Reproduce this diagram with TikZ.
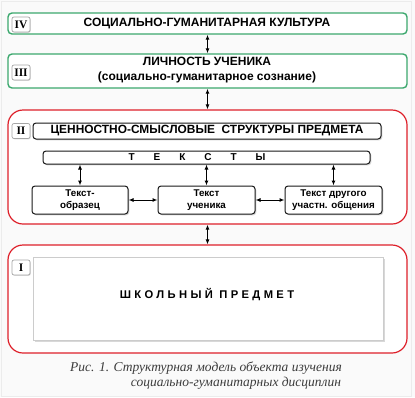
\documentclass[tikz,border=0pt]{standalone}
\usepackage{fontspec}
\setmainfont{Liberation Sans}
\newfontfamily\capfont{Liberation Serif}
\usetikzlibrary{arrows.meta,shadows}
\definecolor{grn}{RGB}{60,168,110}
\definecolor{rd}{RGB}{222,32,42}
\definecolor{capgray}{RGB}{60,60,60}
\tikzset{
  greenbox/.style={draw=grn, line width=1.4pt, rounded corners=4pt, fill=white, inner sep=0pt},
  redbox/.style={draw=rd, line width=1.2pt, rounded corners=15pt, fill=white, inner sep=0pt},
  romanbox/.style={draw=gray!70, line width=0.7pt, rounded corners=2pt, fill=white,
     minimum width=18pt, minimum height=15pt, inner sep=0pt,
     font=\capfont\bfseries\fontsize{11.5}{11.5}\selectfont,
     drop shadow={shadow xshift=0.8pt, shadow yshift=-0.8pt, fill=gray!50}},
  innerbox/.style={draw=black!90, line width=1pt, rounded corners=3pt, fill=white, inner sep=0pt,
     align=center, font=\bfseries\fontsize{9.8}{12}\selectfont,
     drop shadow={shadow xshift=1.3pt, shadow yshift=-1.3pt, fill=gray!65}},
  planebox/.style={draw=gray!40, line width=0.5pt, fill=white, inner sep=0pt,
     drop shadow={shadow xshift=1.6pt, shadow yshift=-1.6pt, fill=gray!60}},
  dbl/.style={{Latex[length=5pt,width=4pt]}-{Latex[length=5pt,width=4pt]}, line width=1pt},
  titletxt/.style={font=\bfseries\fontsize{12}{14}\selectfont},
  captxt/.style={font=\capfont\itshape\fontsize{13.5}{15}\selectfont, text=capgray}
}
\begin{document}
\begin{tikzpicture}[x=1pt,y=-1pt]
\fill[gray!4] (0,0) rectangle (415,397);
\draw[gray!15, line width=0.6pt] (1,1) rectangle (411,396);
\useasboundingbox (0,0) rectangle (415,397);

% IV
\node[greenbox, minimum width=399pt, minimum height=21pt] (iv) at (207.5,23.5) {};
\node[titletxt] (ivt) at (207,24) {СОЦИАЛЬНО-ГУМАНИТАРНАЯ КУЛЬТУРА};
\node[romanbox] (ivl) at (21,24.5) {IV};

% III
\node[greenbox, minimum width=399pt, minimum height=34pt] (iii) at (207.5,71) {};
\node[titletxt, align=center, font=\bfseries\fontsize{12}{15}\selectfont] (iiit) at (207,70) {ЛИЧНОСТЬ УЧЕНИКА\\(социально-гуманитарное сознание)};
\node[romanbox] (iiil) at (21,72.5) {III};

% II
\node[redbox, minimum width=399pt, minimum height=114pt] (ii) at (207.5,167) {};
\node[romanbox] (iil) at (21,131) {II};
\node[innerbox, minimum width=348pt, minimum height=16pt, font=\bfseries\fontsize{11.9}{12}\selectfont] (cs) at (207,131) {ЦЕННОСТНО-СМЫСЛОВЫЕ\ \ СТРУКТУРЫ ПРЕДМЕТА};
\node[innerbox, minimum width=327pt, minimum height=13pt] (tx) at (206.5,157.5) {};
\node[font=\bfseries\fontsize{10}{10}\selectfont] (txt) at (197,157.5) {Т\hspace{19pt}Е\hspace{19pt}К\hspace{19pt}С\hspace{19pt}Т\hspace{19pt}Ы};
\node[innerbox, minimum width=96pt, minimum height=28pt] (b1) at (80,200) {Текст-\\образец};
\node[innerbox, minimum width=97pt, minimum height=28pt] (b2) at (206.5,200) {Текст\\ученика};
\node[innerbox, minimum width=97pt, minimum height=28pt] (b3) at (333.5,200) {Текст другого\\участн. общения};

% I
\node[redbox, minimum width=399pt, minimum height=108pt] (i) at (207.5,299) {};
\node[planebox, minimum width=350pt, minimum height=83pt] (sp) at (208,298.5) {};
\node[font=\bfseries\fontsize{11.2}{12}\selectfont\addfontfeature{LetterSpace=30}] (spt) at (207,294.5) {ШКОЛЬНЫЙ ПРЕДМЕТ};
\node[romanbox] (il) at (21,267.5) {I};

% arrows
\draw[dbl] (iv.south) -- (iii.north);
\draw[dbl] (iii.south) -- (ii.north);
\draw[dbl] (ii.south) -- (i.north);
\draw[dbl] (tx.south -| b1.north) -- (b1.north);
\draw[dbl] (tx.south -| b2.north) -- (b2.north);
\draw[dbl] (tx.south -| b3.north) -- (b3.north);
\draw[dbl] (b1.east) -- (b2.west);
\draw[dbl] (b2.east) -- (b3.west);

% caption
\node[captxt] (cap1) at (206,368) {Рис. 1. Структурная модель объекта изучения};
\node[captxt] (cap2) at (236,383) {социально-гуманитарных дисциплин};
\end{tikzpicture}
\end{document}
